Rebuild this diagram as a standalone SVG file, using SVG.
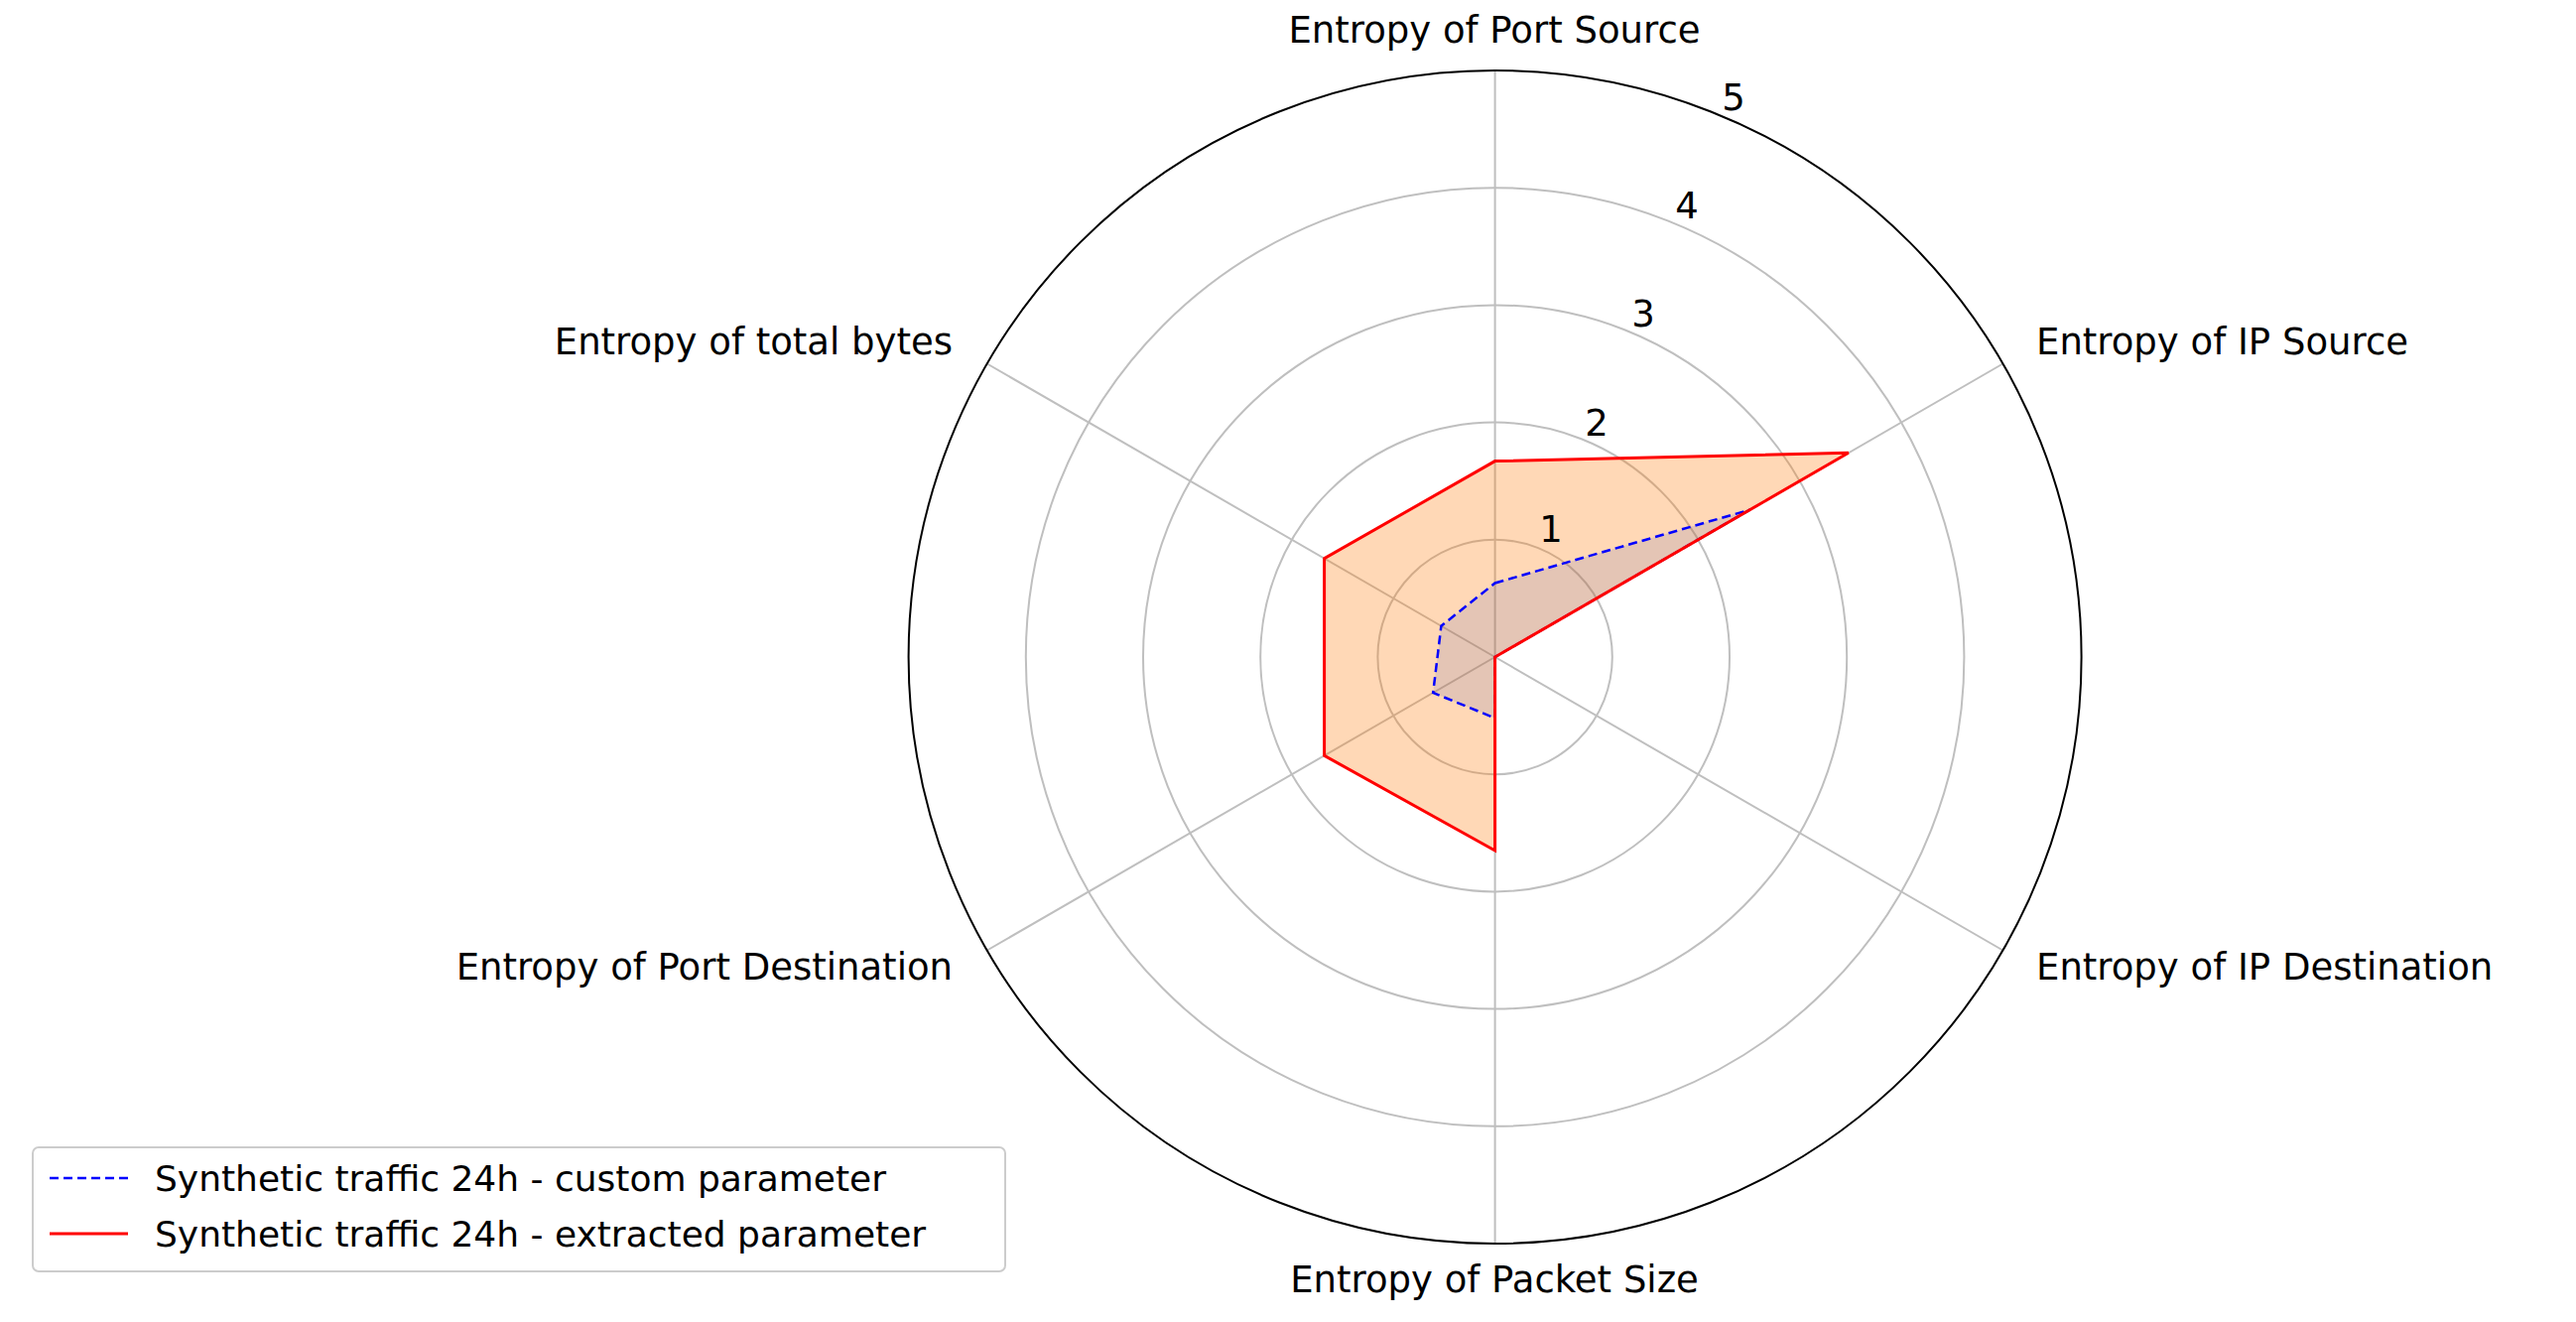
<svg xmlns="http://www.w3.org/2000/svg" width="2596" height="1332" viewBox="0 0 2596 1332">
<style>
text{font-family:"DejaVu Sans","Liberation Sans",sans-serif;fill:#000}
.lab{font-size:37px}
.tick{font-size:37px;text-anchor:middle}
.leg{font-size:36px}
.grid{fill:none;stroke:#bfbfbf;stroke-width:2}
</style>
<rect width="2596" height="1332" fill="#fff"/>
<g id="grid">
<circle class="grid" cx="1506.6" cy="662" r="118.2"/>
<circle class="grid" cx="1506.6" cy="662" r="236.4"/>
<circle class="grid" cx="1506.6" cy="662" r="354.6"/>
<circle class="grid" cx="1506.6" cy="662" r="472.8"/>
<path class="grid" d="M1506.6 662V71M1506.6 662V1253M1506.6 662L2018.4 366.5M1506.6 662L2018.4 957.5M1506.6 662L994.8 366.5M1506.6 662L994.8 957.5"/>
<circle cx="1506.6" cy="662" r="591" fill="none" stroke="#000" stroke-width="2"/>
</g>
<g id="series">
<polygon id="red" points="1506.6,464.6 1862.8,456.3 1506.6,662 1506.6,857 1334.6,761.3 1334.6,562.7" fill="#ff7f0e" fill-opacity="0.3" stroke="none"/>
<polygon id="bluefill" points="1506.6,587.5 1763.5,513.6 1506.6,662 1506.6,723.5 1444.2,698 1452.4,630.7" fill="#1f3fb4" fill-opacity="0.12" stroke="none"/>
<polygon points="1506.6,587.5 1763.5,513.6 1506.6,662 1506.6,723.5 1444.2,698 1452.4,630.7" fill="none" stroke="#0000ff" stroke-width="2.5" stroke-dasharray="9,5"/>
<polygon points="1506.6,464.6 1862.8,456.3 1506.6,662 1506.6,857 1334.6,761.3 1334.6,562.7" fill="none" stroke="#ff0000" stroke-width="3"/>
</g>
<g id="ticks">
<text class="tick" x="1563" y="546">1</text>
<text class="tick" x="1609" y="439">2</text>
<text class="tick" x="1656" y="329">3</text>
<text class="tick" x="1700" y="220">4</text>
<text class="tick" x="1747" y="111">5</text>
</g>
<g id="labels">
<text class="lab" x="1506" y="43" text-anchor="middle">Entropy of Port Source</text>
<text class="lab" x="2052" y="357">Entropy of IP Source</text>
<text class="lab" x="2052" y="987">Entropy of IP Destination</text>
<text class="lab" x="1506" y="1302" text-anchor="middle">Entropy of Packet Size</text>
<text class="lab" x="960" y="987" text-anchor="end">Entropy of Port Destination</text>
<text class="lab" x="960" y="357" text-anchor="end">Entropy of total bytes</text>
</g>
<g id="legend">
<rect x="33" y="1156" width="980" height="125" rx="6" fill="#fff" fill-opacity="0.8" stroke="#ccc" stroke-width="2"/>
<line x1="50" y1="1187" x2="129" y2="1187" stroke="#0000ff" stroke-width="2.5" stroke-dasharray="9,5"/>
<line x1="50" y1="1243" x2="129" y2="1243" stroke="#ff0000" stroke-width="3"/>
<text class="leg" x="156" y="1200">Synthetic traffic 24h - custom parameter</text>
<text class="leg" x="156" y="1256">Synthetic traffic 24h - extracted parameter</text>
</g>
</svg>
